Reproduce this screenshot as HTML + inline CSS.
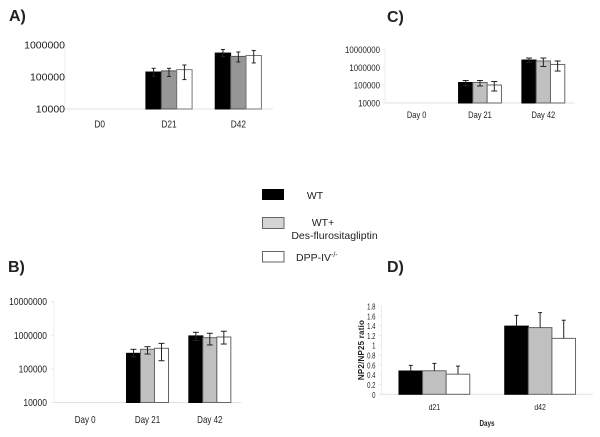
<!DOCTYPE html>
<html>
<head>
<meta charset="utf-8">
<title>Four panel bar charts</title>
<style>
html,body{margin:0;padding:0;background:#fff;width:600px;height:437px;overflow:hidden}
svg{display:block;font-family:"Liberation Sans",Arial,sans-serif;filter:blur(0.35px)}
text{fill:#222}
</style>
</head>
<body>
<svg id="figure" width="600" height="437" viewBox="0 0 600 437" xmlns="http://www.w3.org/2000/svg">
  <text x="9" y="21" font-size="16" font-weight="bold">A)</text>
  <text x="387" y="22" font-size="16" font-weight="bold">C)</text>
  <text x="8" y="272" font-size="16" font-weight="bold">B)</text>
  <text x="387" y="272" font-size="16" font-weight="bold">D)</text>

  <g>
    <rect x="262" y="189" width="22" height="11" fill="#000"/>
    <text x="315" y="199" font-size="10.5" text-anchor="middle">WT</text>
    <rect x="262.5" y="217.5" width="21.5" height="11" fill="#d4d4d4" stroke="#666"/>
    <text x="323" y="226" font-size="10.5" text-anchor="middle">WT+</text>
    <text x="334.5" y="239" font-size="10.5" text-anchor="middle">Des-flurositagliptin</text>
    <rect x="262.5" y="251.5" width="21.5" height="10.5" fill="#fff" stroke="#666"/>
    <text x="296" y="261" font-size="10.5">DPP-IV<tspan font-size="7" dy="-4">-/-</tspan></text>
  </g>

  <text transform="translate(364,350) rotate(-90)" font-size="8" font-weight="bold" letter-spacing="0.2" text-anchor="middle">NP2/NP25 ratio</text>
  <text x="479.5" y="426" font-size="8" font-weight="bold" textLength="15" lengthAdjust="spacingAndGlyphs">Days</text>
</svg>

<script>
// Panel A
const aCategories = ["D0", "D21", "D42"];
const aTicks = [10000, 100000, 1000000];
const aWt = [null, 143000, 560000];
const aWtHigh = [null, 187000, 725000];
const aWtLow = [null, 105000, 430000];
const aDes = [null, 155000, 440000];
const aDesHigh = [null, 187000, 605000];
const aDesLow = [null, 104000, 295000];
const aDpp = [null, 170000, 470000];
const aDppHigh = [null, 237000, 675000];
const aDppLow = [null, 83000, 275000];

// Panel B
const bCategories = ["Day 0", "Day 21", "Day 42"];
const bTicks = [10000, 100000, 1000000, 10000000];
const bWt = [null, 291000, 960000];
const bWtHigh = [null, 383000, 1230000];
const bWtLow = [null, 230000, 700000];
const bDes = [null, 383000, 850000];
const bDesHigh = [null, 458000, 1150000];
const bDesLow = [null, 277000, 515000];
const bDpp = [null, 410000, 890000];
const bDppHigh = [null, 575000, 1320000];
const bDppLow = [null, 175000, 550000];

// Panel C
const cCategories = ["Day 0", "Day 21", "Day 42"];
const cTicks = [10000, 100000, 1000000, 10000000];
const cWt = [null, 141000, 2570000];
const cWtHigh = [null, 182000, 3320000];
const cWtLow = [null, 95000, 1900000];
const cDes = [null, 141000, 2270000];
const cDesHigh = [null, 182000, 3320000];
const cDesLow = [null, 90000, 1120000];
const cDpp = [null, 102000, 1450000];
const cDppHigh = [null, 160000, 2270000];
const cDppLow = [null, 47000, 620000];

// Panel D
const dCategories = ["d21", "d42"];
const dTicks = [0, 0.2, 0.4, 0.6, 0.8, 1, 1.2, 1.4, 1.6, 1.8];
const dWt = [0.475, 1.39];
const dWtHigh = [0.59, 1.61];
const dDes = [0.48, 1.36];
const dDesHigh = [0.63, 1.665];
const dDpp = [0.41, 1.14];
const dDppHigh = [0.575, 1.51];

const svgNS = "http://www.w3.org/2000/svg";
const root = document.getElementById("figure");

function make(tag, parent, props) {
  const el = document.createElementNS(svgNS, tag);
  for (const k in props) el.setAttribute(k, props[k]);
  parent.appendChild(el);
  return el;
}

function logScale(v, lo, hi, bottom, top) {
  return bottom - (Math.log10(v) - Math.log10(lo)) / (Math.log10(hi) - Math.log10(lo)) * (bottom - top);
}
function linScale(v, lo, hi, bottom, top) {
  return bottom - (v - lo) / (hi - lo) * (bottom - top);
}

function drawPanel(p) {
  const g = make("g", root, {});
  
  

  const yOf = function (v) {
    return p.scale(v, p.ticks[0], p.ticks[p.ticks.length - 1], p.bottom, p.top);
  };
  const band = (p.right - p.left) / p.categories.length;

  const yAxis = make("line", g, { x1: p.left, x2: p.left, y1: p.top, y2: p.bottom, stroke: "#ececec" });
  
  
  const xAxis = make("line", g, { x1: p.left, x2: p.right, y1: p.bottom, y2: p.bottom, stroke: "#e0e0e0" });
  
  

  p.ticks.forEach(function (t) {
    const y = yOf(t);
    const mark = make("line", g, { x1: p.left - 3, x2: p.left, y1: y, y2: y, stroke: "#ececec" });
    
    
    const label = make("text", g, {
      transform: "translate(" + p.tickX + "," + (y + 3.5) + ") scale(" + p.tickSx + ",1)",
      "font-size": p.tickFont, "text-anchor": "end"
    });
    
    
    label.textContent = String(t);
  });

  p.categories.forEach(function (c, i) {
    const cx = p.left + band * (i + 0.5);
    const label = make("text", g, {
      transform: "translate(" + cx + "," + p.catY + ") scale(" + p.catSx + ",1)",
      "font-size": p.catFont, "text-anchor": "middle"
    });
    
    
    label.textContent = c;

    p.series.forEach(function (s, j) {
      const v = s.values[i];
      if (v === null) return;
      const x = cx + (j - 1.5) * p.barWidth;
      const top = yOf(v);
      const bar = make("rect", g, {
        x: x, y: top, width: p.barWidth, height: p.bottom - top,
        fill: s.fill, stroke: s.stroke, "stroke-width": 1
      });
      
      
    });

    p.series.forEach(function (s, j) {
      if (s.values[i] === null) return;
      const ex = cx + (j - 1) * p.barWidth;
      const yHigh = yOf(s.high[i]);
      const yLow = s.low ? yOf(s.low[i]) : yOf(s.values[i]);
      const stem = make("line", g, { x1: ex, x2: ex, y1: yHigh, y2: yLow, stroke: "#222" });
      
      
      const capTop = make("line", g, { x1: ex - p.cap, x2: ex + p.cap, y1: yHigh, y2: yHigh, stroke: "#222" });
      
      
      if (s.low) {
        const capLow = make("line", g, { x1: ex - p.cap, x2: ex + p.cap, y1: yLow, y2: yLow, stroke: "#222" });
        
        
      }
    });
  });
}

drawPanel({
  name: "panel-a-chart", categories: aCategories, ticks: aTicks, scale: logScale,
  left: 65, right: 273, top: 45, bottom: 109, tickX: 65, catY: 127.5, barWidth: 15.4, cap: 2,
  tickFont: 10.5, tickSx: 1, catFont: 10, catSx: 0.83,
  series: [
    { key: "wt", values: aWt, high: aWtHigh, low: aWtLow, fill: "#000", stroke: "#000" },
    { key: "wt-des", values: aDes, high: aDesHigh, low: aDesLow, fill: "#969696", stroke: "#555" },
    { key: "dpp", values: aDpp, high: aDppHigh, low: aDppLow, fill: "#fff", stroke: "#777" }
  ]
});

drawPanel({
  name: "panel-b-chart", categories: bCategories, ticks: bTicks, scale: logScale,
  left: 54, right: 241, top: 301.7, bottom: 402.5, tickX: 47, catY: 423, barWidth: 14, cap: 3,
  tickFont: 10.5, tickSx: 0.81, catFont: 10, catSx: 0.8,
  series: [
    { key: "wt", values: bWt, high: bWtHigh, low: bWtLow, fill: "#000", stroke: "#000" },
    { key: "wt-des", values: bDes, high: bDesHigh, low: bDesLow, fill: "#c0c0c0", stroke: "#666" },
    { key: "dpp", values: bDpp, high: bDppHigh, low: bDppLow, fill: "#fff", stroke: "#666" }
  ]
});

drawPanel({
  name: "panel-c-chart", categories: cCategories, ticks: cTicks, scale: logScale,
  left: 385, right: 575, top: 49.5, bottom: 103, tickX: 380, catY: 118, barWidth: 14.3, cap: 3,
  tickFont: 9.2, tickSx: 0.855, catFont: 9, catSx: 0.83,
  series: [
    { key: "wt", values: cWt, high: cWtHigh, low: cWtLow, fill: "#000", stroke: "#000" },
    { key: "wt-des", values: cDes, high: cDesHigh, low: cDesLow, fill: "#c0c0c0", stroke: "#666" },
    { key: "dpp", values: cDpp, high: cDppHigh, low: cDppLow, fill: "#fff", stroke: "#666" }
  ]
});

drawPanel({
  name: "panel-d-chart", categories: dCategories, ticks: dTicks, scale: linScale,
  left: 381.5, right: 593, top: 306, bottom: 394.3, tickX: 375.5, catY: 410, barWidth: 23.6, cap: 2,
  tickFont: 8, tickSx: 0.75, catFont: 8, catSx: 0.87,
  series: [
    { key: "wt", values: dWt, high: dWtHigh, low: null, fill: "#000", stroke: "#000" },
    { key: "wt-des", values: dDes, high: dDesHigh, low: null, fill: "#c0c0c0", stroke: "#666" },
    { key: "dpp", values: dDpp, high: dDppHigh, low: null, fill: "#fff", stroke: "#666" }
  ]
});
</script>
</body>
</html>
